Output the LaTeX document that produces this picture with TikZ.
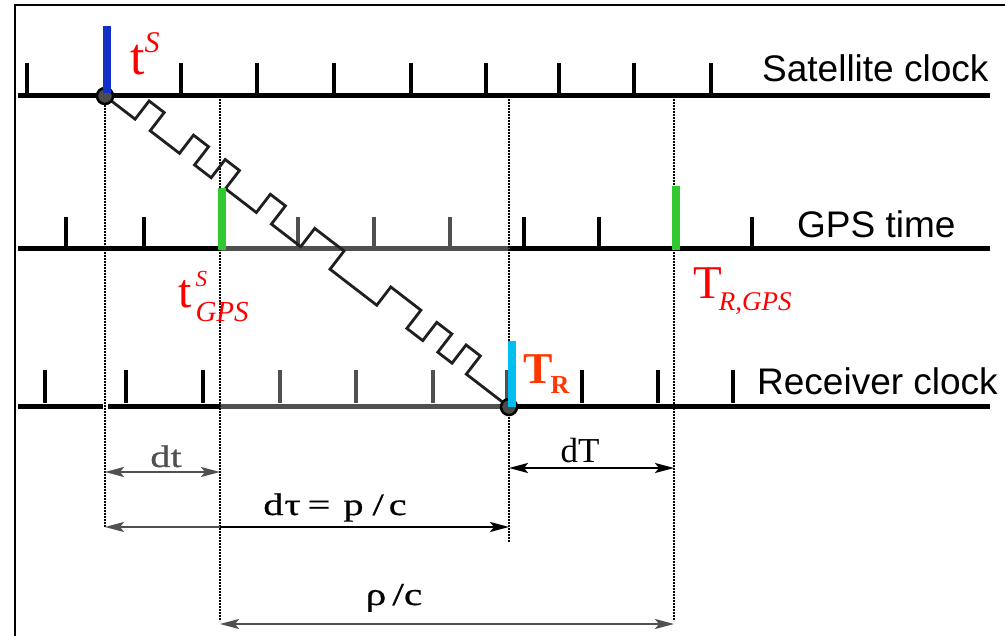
\documentclass[tikz,border=0pt]{standalone}
\usepackage{fontspec}
\setmainfont{Liberation Serif}
\newfontfamily\labsans{Liberation Sans}
\newfontfamily\wserif[FakeStretch=1.3,FakeBold=0.6]{Liberation Serif}
\usetikzlibrary{arrows.meta}
\definecolor{satblue}{RGB}{16,48,200}
\definecolor{gpsgreen}{RGB}{50,200,50}
\definecolor{rcvcyan}{RGB}{0,190,240}
\definecolor{trorange}{RGB}{255,55,0}
\definecolor{lblred}{RGB}{255,0,0}
\definecolor{dimgrey}{RGB}{80,80,80}
\tikzset{
  mytip/.tip={Stealth[length=19pt,width=10pt,inset=4pt]},
  clockline/.style={line width=5pt},
  tickmark/.style={line width=3.8pt},
  dotline/.style={line width=2.2pt, dash pattern=on 1.6pt off 1.4pt},
  bar/.style={line width=8pt},
  event/.style={circle, draw=black, fill=black!70, line width=2.5pt, minimum size=16pt, inner sep=0pt},
  signal/.style={line width=2.8pt, line join=miter, color=black!88},
  dim/.style={line width=2.3pt, mytip-mytip},
  clocklbl/.style={font=\labsans\fontsize{37}{37}\selectfont, anchor=base west, inner sep=0pt},
  redlbl/.style={color=lblred, anchor=base west, inner sep=0pt},
  dimlbl/.style={anchor=base, inner sep=0pt}
}
\begin{document}
\begin{tikzpicture}[x=1pt,y=1pt]
\clip (0,0) rectangle (1005,-636);
\useasboundingbox (0,0) rectangle (1005,-636);
\fill[white] (0,0) rectangle (1005,-636);
% frame
\draw[line width=2.2pt] (15,-650) -- (15,-5) -- (1020,-5);

% events
\coordinate (ts) at (105,-96);
\coordinate (tgps) at (220,-249);
\coordinate (tr) at (509,-407);
\coordinate (trgps) at (674,-249);

% clock lines
\draw[clockline] (18,-96) -- (990,-96);
\draw[clockline] (18,-249) -- (220,-249);
\draw[clockline, dimgrey] (220,-249) -- (510,-249);
\draw[clockline] (510,-249) -- (990,-249);
\draw[clockline] (18,-407) -- (103,-407);
\draw[clockline] (108,-407) -- (220,-407);
\draw[clockline, dimgrey] (220,-407) -- (510,-407);
\draw[clockline] (510,-407) -- (990,-407);

% ticks
\foreach \x in {27,181,257,334,411,486,559,634,711} \draw[tickmark] (\x,-63) -- (\x,-96);
\foreach \x in {66,144,524,599,752} \draw[tickmark] (\x,-217) -- (\x,-249);
\foreach \x in {298,374,450} \draw[tickmark, dimgrey] (\x,-217) -- (\x,-249);
\foreach \x in {45,126,203,582,658,733} \draw[tickmark] (\x,-370) -- (\x,-403);
\foreach \x in {280,356,433,507} \draw[tickmark, dimgrey] (\x,-370) -- (\x,-403);

% dotted verticals
\coordinate (d1) at (105,-527);
\coordinate (d2) at (220,-621);
\coordinate (d3) at (509,-542);
\coordinate (d4) at (674,-621);
\coordinate (s2) at (220,-96);
\coordinate (s3) at (509,-96);
\coordinate (s4) at (674,-96);
\draw[dotline] (ts) -- (d1);
\draw[dotline] (s2) -- (d2);
\draw[dotline] (s3) -- (d3);
\draw[dotline] (s4) -- (d4);

% signal
\begin{scope}[shift={(105,-96)}, rotate=-37.59]
\def\h{23}
\draw[signal] (ts) -- (38,0) -- (38,\h) -- (57,\h) -- (57,0) -- (94,0) -- (94,\h) -- (113,\h) -- (113,0)
  -- (134,0) -- (134,\h) -- (152,\h) -- (152,0) -- (191,0) -- (191,\h) -- (210,\h) -- (210,0)
  -- (247,0) -- (247,\h) -- (284,\h) -- (284,0) -- (343,0) -- (343,\h) -- (381,\h) -- (381,0)
  -- (401,0) -- (401,\h) -- (420,\h) -- (420,0) -- (438,0) -- (438,\h) -- (456,\h) -- (456,0) -- (tr);
\end{scope}
\node[event] (evs) at (ts) {};
\node[event] (evr) at (tr) {};

% coloured bars
\draw[bar, satblue] (107,-26) -- (107,-93);
\draw[bar, gpsgreen] (221.5,-188) -- (221.5,-250);
\draw[bar, gpsgreen] (675.5,-186) -- (675.5,-250);
\draw[bar, rcvcyan] (512,-341) -- (512,-407);

% clock labels
\node[clocklbl] (lsat) at (762,-82) {Satellite clock};
\node[clocklbl] (lgps) at (797,-238) {GPS time};
\node[clocklbl] (lrcv) at (757,-395) {Receiver clock};

% red labels
\node[redlbl] (lts) at (130,-75) {\fontsize{52}{52}\selectfont t\raisebox{22pt}{\fontsize{30}{30}\selectfont\itshape S}};
\node[redlbl] (ltgps) at (178,-308) {\fontsize{48}{48}\selectfont t\kern4pt\rlap{\raisebox{21pt}{\fontsize{23}{23}\selectfont\itshape S}}\raisebox{-14pt}{\fontsize{29}{29}\selectfont\itshape GPS}};
\node[redlbl] (ltrgps) at (693,-299) {\fontsize{47}{47}\selectfont T\kern-3pt\raisebox{-12pt}{\fontsize{27}{27}\selectfont\itshape R,GPS}};
\node[redlbl, color=trorange] (ltr) at (523,-384) {\fontsize{44}{44}\selectfont\bfseries T\kern-2pt\raisebox{-10pt}{\fontsize{26}{26}\selectfont R}};

% dimension arrows
\coordinate (a1l) at (105,-472);
\coordinate (a1r) at (220,-472);
\draw[dim, dimgrey] (a1l) -- (a1r);
\node[dimlbl, dimgrey] (ldt) at (166,-467) {\wserif\fontsize{31}{31}\selectfont dt};

\coordinate (a2l) at (105,-527);
\coordinate (a2m) at (220,-527);
\coordinate (a2r) at (509,-527);
\draw[line width=2.3pt, dimgrey, mytip-] (a2l) -- (a2m);
\draw[line width=2.3pt, -mytip] (a2m) -- (a2r);
\node[dimlbl] (ldtau) at (335,-515) {\wserif\fontsize{31}{31}\selectfont d\kern1pt τ\hspace{7pt}=\hspace{13pt}p\hspace{9pt}/\hspace{5pt}c};

\coordinate (a3l) at (509,-468);
\coordinate (a3r) at (674,-468);
\draw[dim] (a3l) -- (a3r);
\node[dimlbl] (ldT) at (580,-463) {\fontsize{35}{35}\selectfont dT};

\coordinate (a4l) at (220,-624);
\coordinate (a4r) at (674,-624);
\draw[dim, dimgrey] (a4l) -- (a4r);
\node[dimlbl] (lrho) at (394,-605) {\wserif\fontsize{32}{32}\selectfont ρ\hspace{6pt}/c};
\end{tikzpicture}
\end{document}
